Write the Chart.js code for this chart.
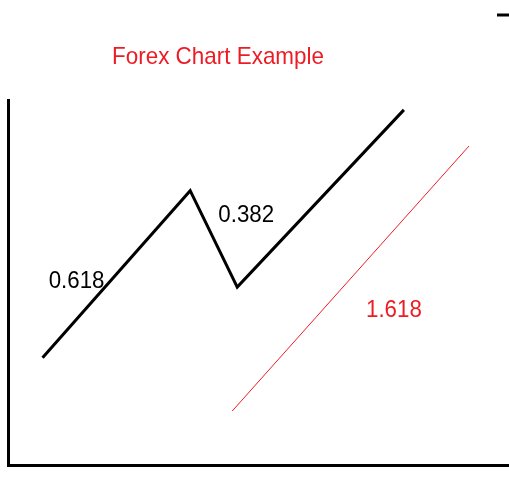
<!DOCTYPE html>
<html>
<head>
<meta charset="utf-8">
<script src="https://cdn.jsdelivr.net/npm/chart.js@4/dist/chart.umd.min.js"></script>
<style>
  html, body { margin: 0; padding: 0; background: #fff; }
  #wrap { width: 509px; height: 497px; }
</style>
</head>
<body>
<div id="wrap"><canvas id="c" width="509" height="497"></canvas></div>
<script>
// ---- data ----
const priceX = [6.8, 36.3, 45.7, 79.0];
const priceY = [29.5, 75.2, 48.8, 97.3];
const extX = [44.7, 92.0];
const extY = [14.9, 87.4];
const fibLabels = ['0.618', '0.382', '1.618'];
const fibLabelX = [13.6, 47.5, 77.0];
const fibLabelY = [48.5, 66.7, 40.7];
const fibLabelColors = ['#000000', '#000000', '#ED1C24'];
const chartTitle = 'Forex Chart Example';

const toPoints = (xs, ys) => xs.map((x, i) => ({ x: x, y: ys[i] }));

function drawText(ctx, text, px, py, size, sx, color) {
  ctx.save();
  ctx.translate(px, py);
  ctx.scale(sx, 1);
  ctx.font = size + 'px "Liberation Sans", Arial, sans-serif';
  ctx.textAlign = 'center';
  ctx.textBaseline = 'alphabetic';
  ctx.fillStyle = color;
  ctx.fillText(text, 0, 0);
  ctx.restore();
}

const annotate = {
  id: 'annotate',
  afterDatasetsDraw(chart) {
    const { ctx, scales: { x, y } } = chart;
    fibLabels.forEach((t, i) => {
      drawText(ctx, t, x.getPixelForValue(fibLabelX[i]), y.getPixelForValue(fibLabelY[i]), 23, 0.97, fibLabelColors[i]);
    });
    drawText(ctx, chartTitle, 218, 64, 24, 0.935, '#ED1C24');
    // small dash at top right
    ctx.save();
    ctx.strokeStyle = '#000';
    ctx.lineWidth = 3;
    ctx.beginPath();
    ctx.moveTo(497, 15);
    ctx.lineTo(509, 15);
    ctx.stroke();
    ctx.restore();
  }
};

new Chart(document.getElementById('c'), {
  type: 'scatter',
  data: {
    datasets: [
      {
        data: toPoints(priceX, priceY),
        showLine: true,
        borderColor: '#000',
        borderWidth: 3,
        pointRadius: 0,
        fill: false,
        tension: 0,
        clip: false
      },
      {
        data: toPoints(extX, extY),
        showLine: true,
        borderColor: '#ED1C24',
        borderWidth: 1,
        pointRadius: 0,
        fill: false,
        tension: 0,
        clip: false
      }
    ]
  },
  options: {
    responsive: false,
    animation: false,
    devicePixelRatio: 1,
    layout: { padding: { left: 8.5, top: 100, right: 0, bottom: 31.5 } },
    plugins: { legend: { display: false }, tooltip: { enabled: false }, title: { display: false } },
    scales: {
      x: {
        type: 'linear', min: 0, max: 100,
        ticks: { display: false },
        grid: { display: false, drawTicks: false },
        border: { display: true, color: '#000', width: 3 }
      },
      y: {
        type: 'linear', min: 0, max: 100,
        ticks: { display: false },
        grid: { display: false, drawTicks: false },
        border: { display: true, color: '#000', width: 3 }
      }
    }
  },
  plugins: [annotate]
});
</script>
</body>
</html>
